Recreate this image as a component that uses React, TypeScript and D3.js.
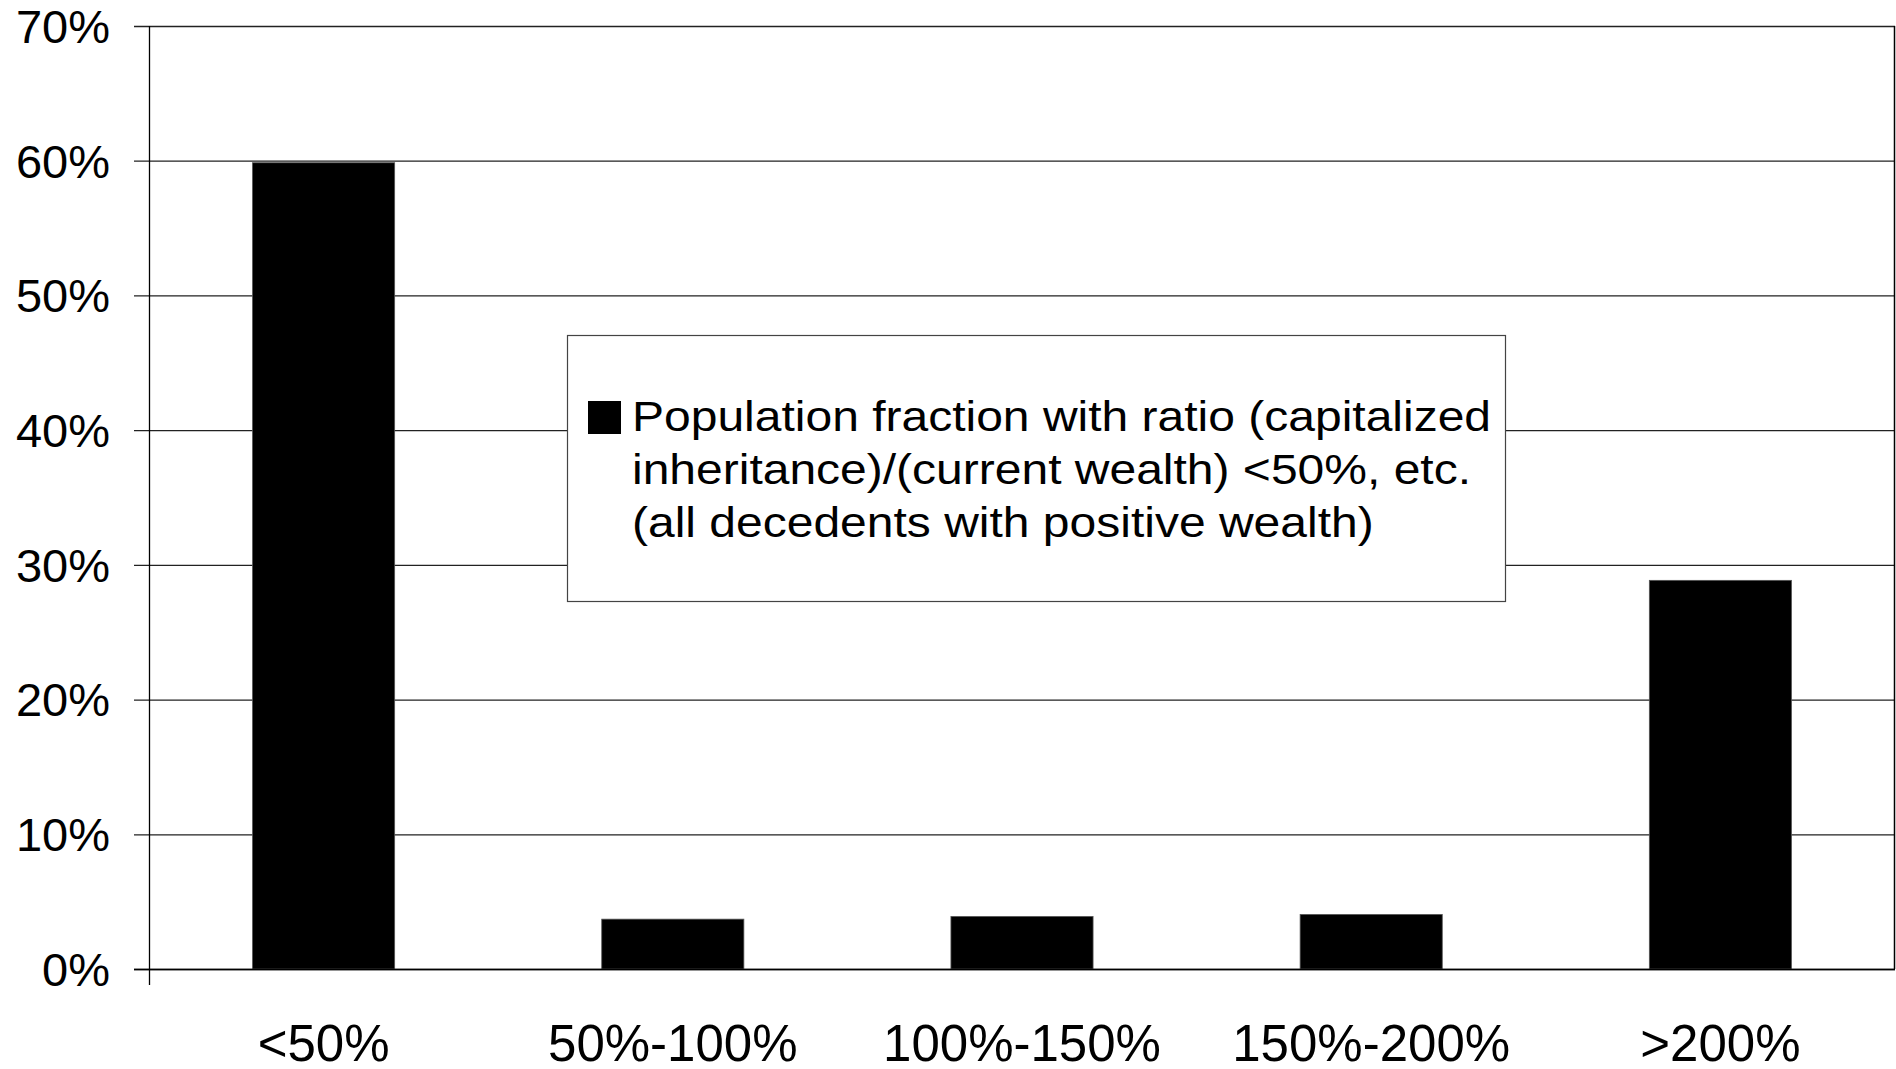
import React from 'react';
import * as d3 from 'd3';

const categories = ['<50%', '50%-100%', '100%-150%', '150%-200%', '>200%'];
const shares = [59.85, 3.7, 3.9, 4.05, 28.85];
const yTicks = [0, 10, 20, 30, 40, 50, 60, 70];
const legendLines = [
    'Population fraction with ratio (capitalized',
    'inheritance)/(current wealth) <50%, etc.',
    '(all decedents with positive wealth)',
];

const App: React.FC = () => {
    const width = 1896;
    const height = 1069;
    const margin = { top: 26, right: 1, bottom: 100, left: 149 };
    const font = '"Liberation Sans", Arial, sans-serif';

    const xScale = d3.scaleBand<string>()
        .domain(categories)
        .range([margin.left, width - margin.right])
        .paddingInner(0.593)
        .paddingOuter(0.2965);

    const yScale = d3.scaleLinear()
        .domain([0, 70])
        .range([height - margin.bottom, margin.top]);

    const y0 = yScale(0);

    return (
        <svg width={width} height={height} style={{ position: 'absolute', left: 0, top: 0, background: '#fff' }}>
            {/* gridlines + tick labels */}
            {yTicks.map(t => (
                <g key={t}>
                    <line x1={134} x2={width - margin.right} y1={yScale(t) + 0.5} y2={yScale(t) + 0.5} stroke="#222" strokeWidth={1.3} />
                    <text x={110} y={yScale(t)} dy="0.36em" textAnchor="end" fontFamily={font} fontSize={47} fill="#000">
                        {t}%
                    </text>
                </g>
            ))}

            {/* right border + y axis */}
            <line x1={width - margin.right - 0.5} x2={width - margin.right - 0.5} y1={margin.top} y2={y0} stroke="#000" strokeWidth={1.5} />
            <line x1={margin.left + 0.5} x2={margin.left + 0.5} y1={margin.top} y2={y0 + 16} stroke="#000" strokeWidth={1.3} />

            {/* bars */}
            {categories.map((c, i) => (
                <rect key={c}
                    x={xScale(c)}
                    y={yScale(shares[i])}
                    width={xScale.bandwidth()}
                    height={y0 - yScale(shares[i])}
                    fill="#000"
                    stroke="#555"
                    strokeWidth={0.8} />
            ))}

            {/* x axis */}
            <line x1={134} x2={width - margin.right} y1={y0 + 0.5} y2={y0 + 0.5} stroke="#000" strokeWidth={1.5} />

            {categories.map(c => (
                <text key={c} x={(xScale(c) ?? 0) + xScale.bandwidth() / 2} y={1061}
                    textAnchor="middle" fontFamily={font} fontSize={51} fill="#000">
                    {c}
                </text>
            ))}

            {/* legend */}
            <rect x={567.5} y={335.5} width={938} height={266} fill="#fff" stroke="#444" strokeWidth={1.2} />
            <rect x={588} y={401} width={33} height={33} fill="#000" />
            <g transform="translate(632,0) scale(1.143,1)">
                {legendLines.map((l, i) => (
                    <text key={i} x={0} y={431 + i * 53} fontFamily={font} fontSize={42} fill="#000">
                        {l}
                    </text>
                ))}
            </g>
        </svg>
    );
};

export default App;
